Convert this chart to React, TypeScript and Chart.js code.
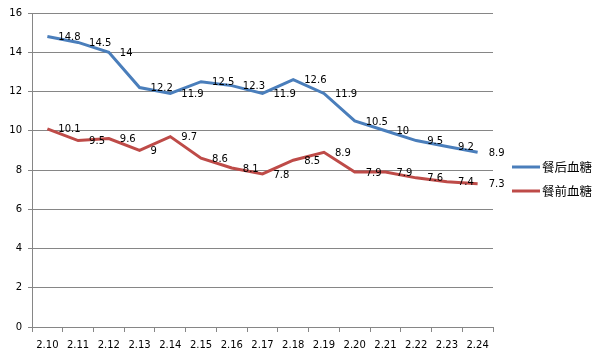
import React, { useEffect, useRef } from "react";
import { Chart, registerables } from "chart.js";

Chart.register(...registerables);

const categories = ["2.10", "2.11", "2.12", "2.13", "2.14", "2.15", "2.16", "2.17", "2.18", "2.19", "2.20", "2.21", "2.22", "2.23", "2.24"];
const afterMeal = [14.8, 14.5, 14, 12.2, 11.9, 12.5, 12.3, 11.9, 12.6, 11.9, 10.5, 10, 9.5, 9.2, 8.9];
const beforeMeal = [10.1, 9.5, 9.6, 9, 9.7, 8.6, 8.1, 7.8, 8.5, 8.9, 7.9, 7.9, 7.6, 7.4, 7.3];
const seriesNames = ["餐后血糖", "餐前血糖"];
const seriesColors = ["#4A7EBB", "#BE4B48"];

const labelPlugin = {
  id: "pointLabels",
  afterDatasetsDraw(chart: any) {
    const ctx = chart.ctx;
    ctx.save();
    ctx.font = "10px 'DejaVu Sans'";
    ctx.fillStyle = "#000";
    ctx.textAlign = "left";
    ctx.textBaseline = "middle";
    chart.data.datasets.forEach((ds: any, i: number) => {
      const meta = chart.getDatasetMeta(i);
      meta.data.forEach((pt: any, j: number) => {
        ctx.fillText(String(ds.data[j]), pt.x + 11, pt.y + 1);
      });
    });
    ctx.restore();
  },
};

const legendPlugin = {
  id: "customLegend",
  afterDraw(chart: any) {
    const ctx = chart.ctx;
    ctx.save();
    const ys = [167, 191];
    seriesNames.forEach((name, i) => {
      ctx.strokeStyle = seriesColors[i];
      ctx.lineWidth = 3;
      ctx.beginPath();
      ctx.moveTo(512, ys[i]);
      ctx.lineTo(540, ys[i]);
      ctx.stroke();
      ctx.fillStyle = "#000";
      ctx.font = "12.5px 'Noto Sans CJK SC'";
      ctx.textAlign = "left";
      ctx.textBaseline = "middle";
      ctx.fillText(name, 542, ys[i]);
    });
    ctx.restore();
  },
};

export default function App() {
  const ref = useRef<HTMLCanvasElement>(null);
  useEffect(() => {
    document.body.style.margin = "0";
    const chart = new Chart(ref.current!, {
      type: "line",
      data: {
        labels: categories,
        datasets: [
          { label: seriesNames[0], data: afterMeal, borderColor: seriesColors[0], borderWidth: 3, pointRadius: 0, tension: 0 },
          { label: seriesNames[1], data: beforeMeal, borderColor: seriesColors[1], borderWidth: 3, pointRadius: 0, tension: 0 },
        ],
      },
      options: {
        animation: false,
        responsive: false,
        layout: { padding: { top: 13, right: 114, left: 0, bottom: 0 } },
        plugins: { legend: { display: false }, tooltip: { enabled: false } },
        scales: {
          x: {
            offset: true,
            grid: { offset: true, drawOnChartArea: false, color: "#868686", tickLength: 5, tickColor: "#868686" },
            border: { color: "#868686" },
            ticks: { color: "#000", font: { family: "DejaVu Sans", size: 10 }, maxRotation: 0, autoSkip: false, padding: 7 },
            afterFit: (s: any) => { s.height = 30; },
          },
          y: {
            min: 0,
            max: 16,
            ticks: { stepSize: 2, color: "#000", font: { family: "DejaVu Sans", size: 10 }, padding: 6 },
            grid: { color: "#868686", tickLength: 4, tickColor: "#868686" },
            border: { color: "#868686" },
            afterFit: (s: any) => { s.width = 32; },
          },
        },
      },
      plugins: [labelPlugin, legendPlugin],
    });
    return () => chart.destroy();
  }, []);
  return <canvas ref={ref} width={607} height={357} style={{ display: "block" }} />;
}
